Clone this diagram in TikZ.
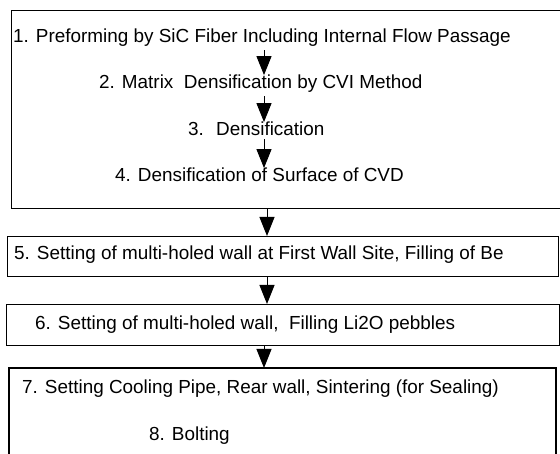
\documentclass[tikz,border=0pt]{standalone}
\usepackage{fontspec}
\setmainfont{Liberation Sans}
\usetikzlibrary{arrows.meta}
\begin{document}
\begin{tikzpicture}[x=1pt,y=-1pt,
  frame/.style={draw, line width=1.1pt, inner sep=0pt, anchor=north west},
  lbl/.style={anchor=base west, inner sep=0pt, font=\fontsize{18.9}{22}\selectfont},
  flow/.style={-{Triangle[width=15pt,length=19pt]}, line width=1pt}]
\useasboundingbox (0,0) rectangle (560,454);
% boxes
\node[frame, minimum width=549pt, minimum height=198pt] (A) at (10.5,10) {};
\node[frame, minimum width=551.5pt, minimum height=40pt] (B5) at (6.5,236) {};
\node[frame, minimum width=553pt, minimum height=41pt] (B6) at (5.5,304) {};
\coordinate (c7bl) at (9,456);
\coordinate (c7tl) at (9,368);
\coordinate (c7tr) at (556,368);
\coordinate (c7br) at (556,456);
\draw[line width=1.1pt] (c7bl) -- (c7tl) -- (c7tr) -- (c7br);
% texts
\node[lbl] (t1) at (13,43) {1. Preforming by SiC Fiber Including Internal Flow Passage};
\node[lbl] (t2) at (99,89) {2. Matrix \ Densification by CVI Method};
\node[lbl] (t3) at (188,136) {3. \ Densification};
\node[lbl] (t4) at (115,182) {4. Densification of Surface of CVD};
\node[lbl] (t5) at (14,260) {5. Setting of multi-holed wall at First Wall Site, Filling of Be};
\node[lbl] (t6) at (35,330) {6. Setting of multi-holed wall, \ Filling Li2O pebbles};
\node[lbl] (t7) at (22,394) {7. Setting Cooling Pipe, Rear wall, Sintering (for Sealing)};
\node[lbl] (t8) at (149,440) {8. Bolting};
% arrow axes
\coordinate (ax) at (264,0);
\coordinate (ay) at (267,0);
\draw[flow, shorten <=3pt] (t1.south -| ax) -- (t2.north -| ax);
\draw[flow, shorten <=3pt] (t2.south -| ax) -- (t3.north -| ax);
\draw[flow, shorten <=3pt] (t3.south -| ax) -- (t4.north -| ax);
\draw[flow] (A.south -| ay) -- (B5.north -| ay);
\draw[flow] (B5.south -| ay) -- (B6.north -| ay);
\draw[flow] (B6.south -| ax) -- (c7tl -| ax);
\end{tikzpicture}
\end{document}
